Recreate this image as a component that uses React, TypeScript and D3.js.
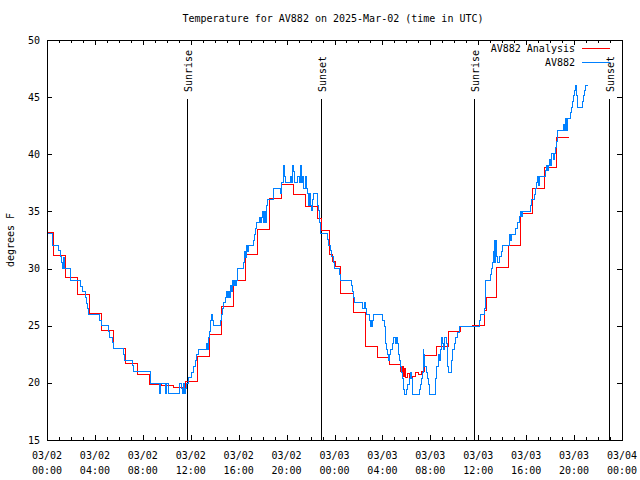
import { useEffect, useRef } from "react";
import * as d3 from "d3";

const title = "Temperature for AV882 on 2025-Mar-02 (time in UTC)";
const yLabel = "degrees F";
const startUtc = Date.UTC(2025, 2, 2);
const endUtc = Date.UTC(2025, 2, 4);
const yTicks = [15, 20, 25, 30, 35, 40, 45, 50];

// hours after 03/02 00:00 UTC
const analysisHours = [
  0, 0.55, 1.55, 2.55, 3.55, 4.55, 5.55, 6.55, 7.55, 8.55, 9.55, 10.55, 11.55,
  12.55, 13.55, 14.55, 15.55, 16.55, 17.55, 18.55, 19.55, 20.55, 21.55, 22.55,
  22.88, 23.55, 23.8, 24.1, 24.5, 25.55, 26.55, 27.55, 28.55, 29.55, 29.65,
  29.75, 29.85, 29.95, 30.1, 30.3, 30.55, 30.8, 31.05, 31.3, 31.55, 32.55,
  33.55, 34.55, 35.55, 36.55, 36.65, 37.55, 38.55, 39.55, 40.55, 41.55, 42.55,
  43.58,
];
const analysisTemps = [
  33.15, 31.17, 29.2, 27.75, 26.06, 24.6, 23.0, 21.7, 20.76, 19.88, 19.73,
  19.6, 20.13, 22.32, 24.25, 26.7, 28.97, 31.25, 33.43, 36.14, 37.4, 36.52,
  35.47, 34.4, 33.3, 31.19, 30.6, 30.2, 27.86, 26.17, 23.2, 22.23, 21.62, 21.0,
  21.4, 20.6, 21.3, 20.5, 20.8, 20.4, 20.6, 20.9, 20.7, 21.0, 22.4, 23.2, 24.5,
  24.92, 25.0, 26.37, 27.45, 30.11, 32.0, 34.78, 37.05, 38.86, 41.48, 41.48,
];

const obsHours = [
  0, 0.03, 0.44, 0.5, 1.0, 1.1, 1.2, 1.3, 1.4, 1.47, 1.92, 1.97, 2.8, 2.94,
  3.22, 3.3, 3.42, 3.5, 4.42, 4.53, 5.11, 5.25, 5.44, 5.53, 6.42, 6.5, 7.11,
  7.19, 8.6, 8.68, 9.42, 9.47, 9.89, 9.97, 10.17, 11.08, 11.22, 11.3, 11.36,
  11.44, 11.53, 11.64, 11.78, 12.06, 12.2, 12.39, 12.5, 12.67, 13.3, 13.39,
  13.45, 13.58, 13.67, 13.72, 13.8, 13.89, 14.5, 14.56, 14.64, 14.72, 14.89,
  14.97, 15.06, 15.14, 15.22, 15.3, 15.39, 15.47, 15.56, 15.64, 15.72, 15.8,
  15.89, 16.39, 16.47, 16.56, 16.64, 16.72, 16.81, 17.2, 17.28, 17.39, 17.47,
  17.75, 17.83, 17.94, 18.03, 18.11, 18.19, 18.28, 18.36, 18.4, 18.94, 19.5,
  19.6, 19.72, 19.78, 19.83, 19.92, 20.33, 20.39, 20.53, 20.6, 20.67, 20.94,
  21.08, 21.17, 21.22, 21.36, 21.44, 21.56, 21.64, 21.72, 21.83, 21.92, 22.0,
  22.06, 22.17, 22.28, 22.56, 22.67, 22.75, 22.86, 23.42, 23.5, 23.69, 23.78,
  23.89, 23.97, 24.39, 24.47, 25.44, 25.53, 25.58, 25.64, 26.33, 26.47, 26.61,
  26.69, 26.89, 27.02, 27.1, 27.17, 27.2, 27.25, 28.0, 28.14, 28.22, 28.28,
  28.33, 28.42, 28.5, 28.55, 28.58, 28.63, 28.69, 28.83, 28.92, 29.11, 29.2,
  29.28, 29.33, 29.4, 29.47, 29.58, 29.67, 29.75, 29.8, 29.86, 30.03, 30.08,
  30.22, 30.36, 30.44, 30.5, 30.55, 31.06, 31.14, 31.25, 31.33, 31.42, 31.46,
  31.5, 31.53, 31.64, 31.75, 31.83, 31.92, 32.39, 32.47, 32.52, 32.64, 32.75,
  32.86, 32.94, 33.03, 33.11, 33.17, 33.33, 33.42, 33.5, 33.8, 33.89, 34.0,
  34.14, 34.28, 34.47, 36.08, 36.17, 36.5, 36.64, 37.0, 37.11, 37.19, 37.28,
  37.33, 37.39, 37.44, 37.5, 37.64, 37.75, 37.97, 38.06, 38.58, 38.64, 38.72,
  38.81, 39.14, 39.28, 39.42, 39.5, 39.61, 39.69, 40.36, 40.47, 40.69, 40.78,
  40.89, 40.97, 41.03, 41.11, 41.58, 41.67, 41.78, 41.86, 41.97, 42.06, 42.14,
  42.25, 42.36, 42.47, 42.56, 42.61, 43.08, 43.17, 43.25, 43.36, 43.44, 43.67,
  43.75, 43.83, 43.92, 44.0, 44.11, 44.19, 44.25, 44.31, 44.67, 44.75, 44.86,
  44.97, 45.14,
];
const obsTemps = [
  33.5, 33.03, 32.54, 32.04, 31.55, 31.02, 30.5, 30.0, 31.0, 30.0, 29.5, 28.98,
  28.45, 27.96, 27.46, 26.94, 26.5, 25.97, 25.48, 25.0, 24.46, 23.96, 23.5,
  23.0, 22.48, 21.98, 21.48, 20.96, 20.46, 19.96, 19.03, 19.96, 19.03, 19.96,
  19.03, 19.96, 19.5, 19.03, 19.96, 19.03, 19.5, 19.96, 20.45, 20.95, 21.4,
  21.94, 22.44, 22.96, 23.46, 22.96, 23.98, 24.48, 25.5, 26.0, 25.5, 25.0,
  25.5, 26.0, 26.5, 27.0, 27.5, 28.0, 27.5, 28.0, 27.5, 28.53, 28.0, 29.0,
  28.53, 29.0, 28.53, 29.0, 30.0, 30.5, 31.5, 31.0, 32.0, 31.5, 32.0, 32.5,
  33.0, 33.55, 34.0, 34.5, 34.0, 34.5, 35.0, 34.0, 35.0, 34.0, 35.5, 36.06,
  37.05, 36.55, 37.57, 38.56, 39.06, 38.04, 37.57, 38.04, 37.57, 39.06, 38.5,
  37.57, 38.04, 37.57, 39.06, 37.57, 38.04, 37.05, 38.04, 37.05, 36.55, 35.5,
  36.55, 35.5, 35.04, 36.06, 36.55, 35.53, 35.04, 34.0, 33.08, 32.58, 32.06,
  31.56, 31.04, 30.54, 30.02, 29.52, 29.0, 28.5, 28.0, 27.48, 26.99, 26.52,
  26.99, 26.52, 25.97, 25.5, 24.97, 25.5, 24.97, 25.5, 25.97, 25.5, 24.97,
  24.45, 23.46, 22.93, 22.44, 21.94, 22.44, 21.94, 22.44, 22.93, 23.46, 23.95,
  23.46, 23.95, 23.46, 22.44, 21.94, 21.42, 20.92, 20.42, 19.9, 19.4, 19.02,
  19.4, 19.9, 20.42, 20.92, 20.42, 19.9, 19.02, 19.4, 19.9, 20.42, 20.92,
  22.93, 21.42, 22.44, 21.42, 20.92, 20.42, 19.9, 19.02, 19.4, 20.42, 21.42,
  22.44, 21.94, 22.93, 23.95, 23.46, 22.93, 23.95, 23.46, 21.42, 20.92, 21.94,
  22.93, 23.46, 23.95, 24.45, 24.97, 25.5, 26.0, 26.5, 29.0, 29.5, 30.0, 30.5,
  31.5, 32.5, 30.5, 32.5, 31.04, 30.5, 31.04, 31.48, 32.0, 32.5, 33.0, 32.5,
  33.0, 33.52, 34.0, 34.54, 35.03, 34.54, 35.03, 35.53, 36.06, 36.52, 37.05,
  37.54, 38.04, 37.3, 38.04, 38.56, 39.06, 38.56, 39.06, 39.55, 39.06, 40.08,
  39.55, 40.08, 40.58, 41.1, 42.09, 42.62, 42.09, 43.1, 42.09, 43.1, 43.64,
  44.1, 44.63, 45.12, 45.62, 46.03, 45.12, 44.63, 44.1, 44.63, 45.12, 45.62,
  46.03, 46.03,
];

const sunLabels = ["Sunrise", "Sunset", "Sunrise", "Sunset"];
const sunHours = [11.72, 22.86, 35.62, 46.95];

const seriesNames = ["AV882 Analysis", "AV882"];
const seriesColors = ["#ff0000", "#0080ff"];

const W = 640;
const H = 480;
const margin = { top: 40, right: 18, bottom: 40, left: 47 };
const font = "'DejaVu Sans Mono', monospace";

const toDate = (h: number) => new Date(startUtc + h * 3600 * 1000);

const App = () => {
  const svgRef = useRef<SVGSVGElement | null>(null);

  useEffect(() => {
    if (!svgRef.current) return;
    const svg = d3.select(svgRef.current);
    svg.selectAll("*").remove();

    const x = d3
      .scaleUtc()
      .domain([new Date(startUtc), new Date(endUtc)])
      .range([margin.left, W - margin.right]);
    const y = d3
      .scaleLinear()
      .domain([15, 50])
      .range([H - margin.bottom, margin.top]);

    const top = margin.top;
    const bottom = H - margin.bottom;
    const left = margin.left;
    const right = W - margin.right;

    svg
      .append("rect")
      .attr("width", W)
      .attr("height", H)
      .attr("fill", "#fff");

    const g = svg
      .append("g")
      .attr("font-family", font)
      .attr("font-size", 10)
      .attr("fill", "#000");

    // ticks, mirrored on all sides, pointing in
    const ticksG = g
      .append("g")
      .attr("stroke", "#000")
      .attr("shape-rendering", "crispEdges");
    const minor = x.ticks(d3.utcHour.every(1)!);
    const major = x.ticks(d3.utcHour.every(4)!);
    const majorSet = new Set(major.map((d) => +d));
    minor.forEach((d) => {
      const len = majorSet.has(+d) ? 5 : 3;
      const px = Math.round(x(d)) + 0.5;
      ticksG.append("line").attr("x1", px).attr("x2", px).attr("y1", bottom).attr("y2", bottom - len);
      ticksG.append("line").attr("x1", px).attr("x2", px).attr("y1", top).attr("y2", top + len);
    });
    yTicks.forEach((v) => {
      const py = Math.round(y(v)) + 0.5;
      ticksG.append("line").attr("x1", left).attr("x2", left + 5).attr("y1", py).attr("y2", py);
      ticksG.append("line").attr("x1", right).attr("x2", right - 5).attr("y1", py).attr("y2", py);
    });

    const fmtDay = d3.utcFormat("%m/%d");
    const fmtTime = d3.utcFormat("%H:%M");
    major.forEach((d) => {
      const t = g
        .append("text")
        .attr("text-anchor", "middle")
        .attr("x", x(d));
      t.append("tspan").attr("x", x(d)).attr("y", 459).text(fmtDay(d));
      t.append("tspan").attr("x", x(d)).attr("y", 474).text(fmtTime(d));
    });

    yTicks.forEach((v) => {
      g.append("text")
        .attr("text-anchor", "end")
        .attr("x", 40)
        .attr("y", y(v) + 3.5)
        .text(v);
    });

    g.append("text")
      .attr("text-anchor", "middle")
      .attr("x", 333)
      .attr("y", 22)
      .text(title);

    g.append("text")
      .attr("text-anchor", "middle")
      .attr("transform", `translate(14,${(top + bottom) / 2}) rotate(-90)`)
      .text(yLabel);

    // sunrise / sunset markers
    sunHours.forEach((h, i) => {
      const px = Math.round(x(toDate(h))) + 0.5;
      g.append("line")
        .attr("x1", px)
        .attr("x2", px)
        .attr("y1", 99)
        .attr("y2", bottom)
        .attr("stroke", "#000")
        .attr("shape-rendering", "crispEdges");
      g.append("text")
        .attr("transform", `translate(${px + 4.5},92) rotate(-90)`)
        .text(sunLabels[i]);
    });

    const line = d3
      .line<[number, number]>()
      .x((d) => x(toDate(d[0])))
      .y((d) => y(d[1]))
      .curve(d3.curveStepAfter);

    const series: [number, number][][] = [
      analysisHours.map((h, i) => [h, analysisTemps[i]]),
      obsHours.map((h, i) => [h, obsTemps[i]]),
    ];

    series.forEach((pts, i) => {
      g.append("path")
        .datum(pts)
        .attr("fill", "none")
        .attr("stroke", seriesColors[i])
        .attr("stroke-width", 1)
        .attr("shape-rendering", "crispEdges")
        .attr("d", line);
    });

    // legend
    seriesNames.forEach((name, i) => {
      const ly = 48.5 + i * 14;
      g.append("text")
        .attr("text-anchor", "end")
        .attr("x", 575)
        .attr("y", ly + 3.5)
        .text(name);
      g.append("line")
        .attr("x1", 582)
        .attr("x2", 610)
        .attr("y1", ly)
        .attr("y2", ly)
        .attr("stroke", seriesColors[i])
        .attr("shape-rendering", "crispEdges");
    });

    g.append("rect")
      .attr("x", left + 0.5)
      .attr("y", top + 0.5)
      .attr("width", right - left)
      .attr("height", bottom - top)
      .attr("fill", "none")
      .attr("stroke", "#000")
      .attr("shape-rendering", "crispEdges");
  }, []);

  return (
    <svg
      ref={svgRef}
      width={W}
      height={H}
      style={{ position: "absolute", left: 0, top: 0, display: "block" }}
    />
  );
};

export default App;
